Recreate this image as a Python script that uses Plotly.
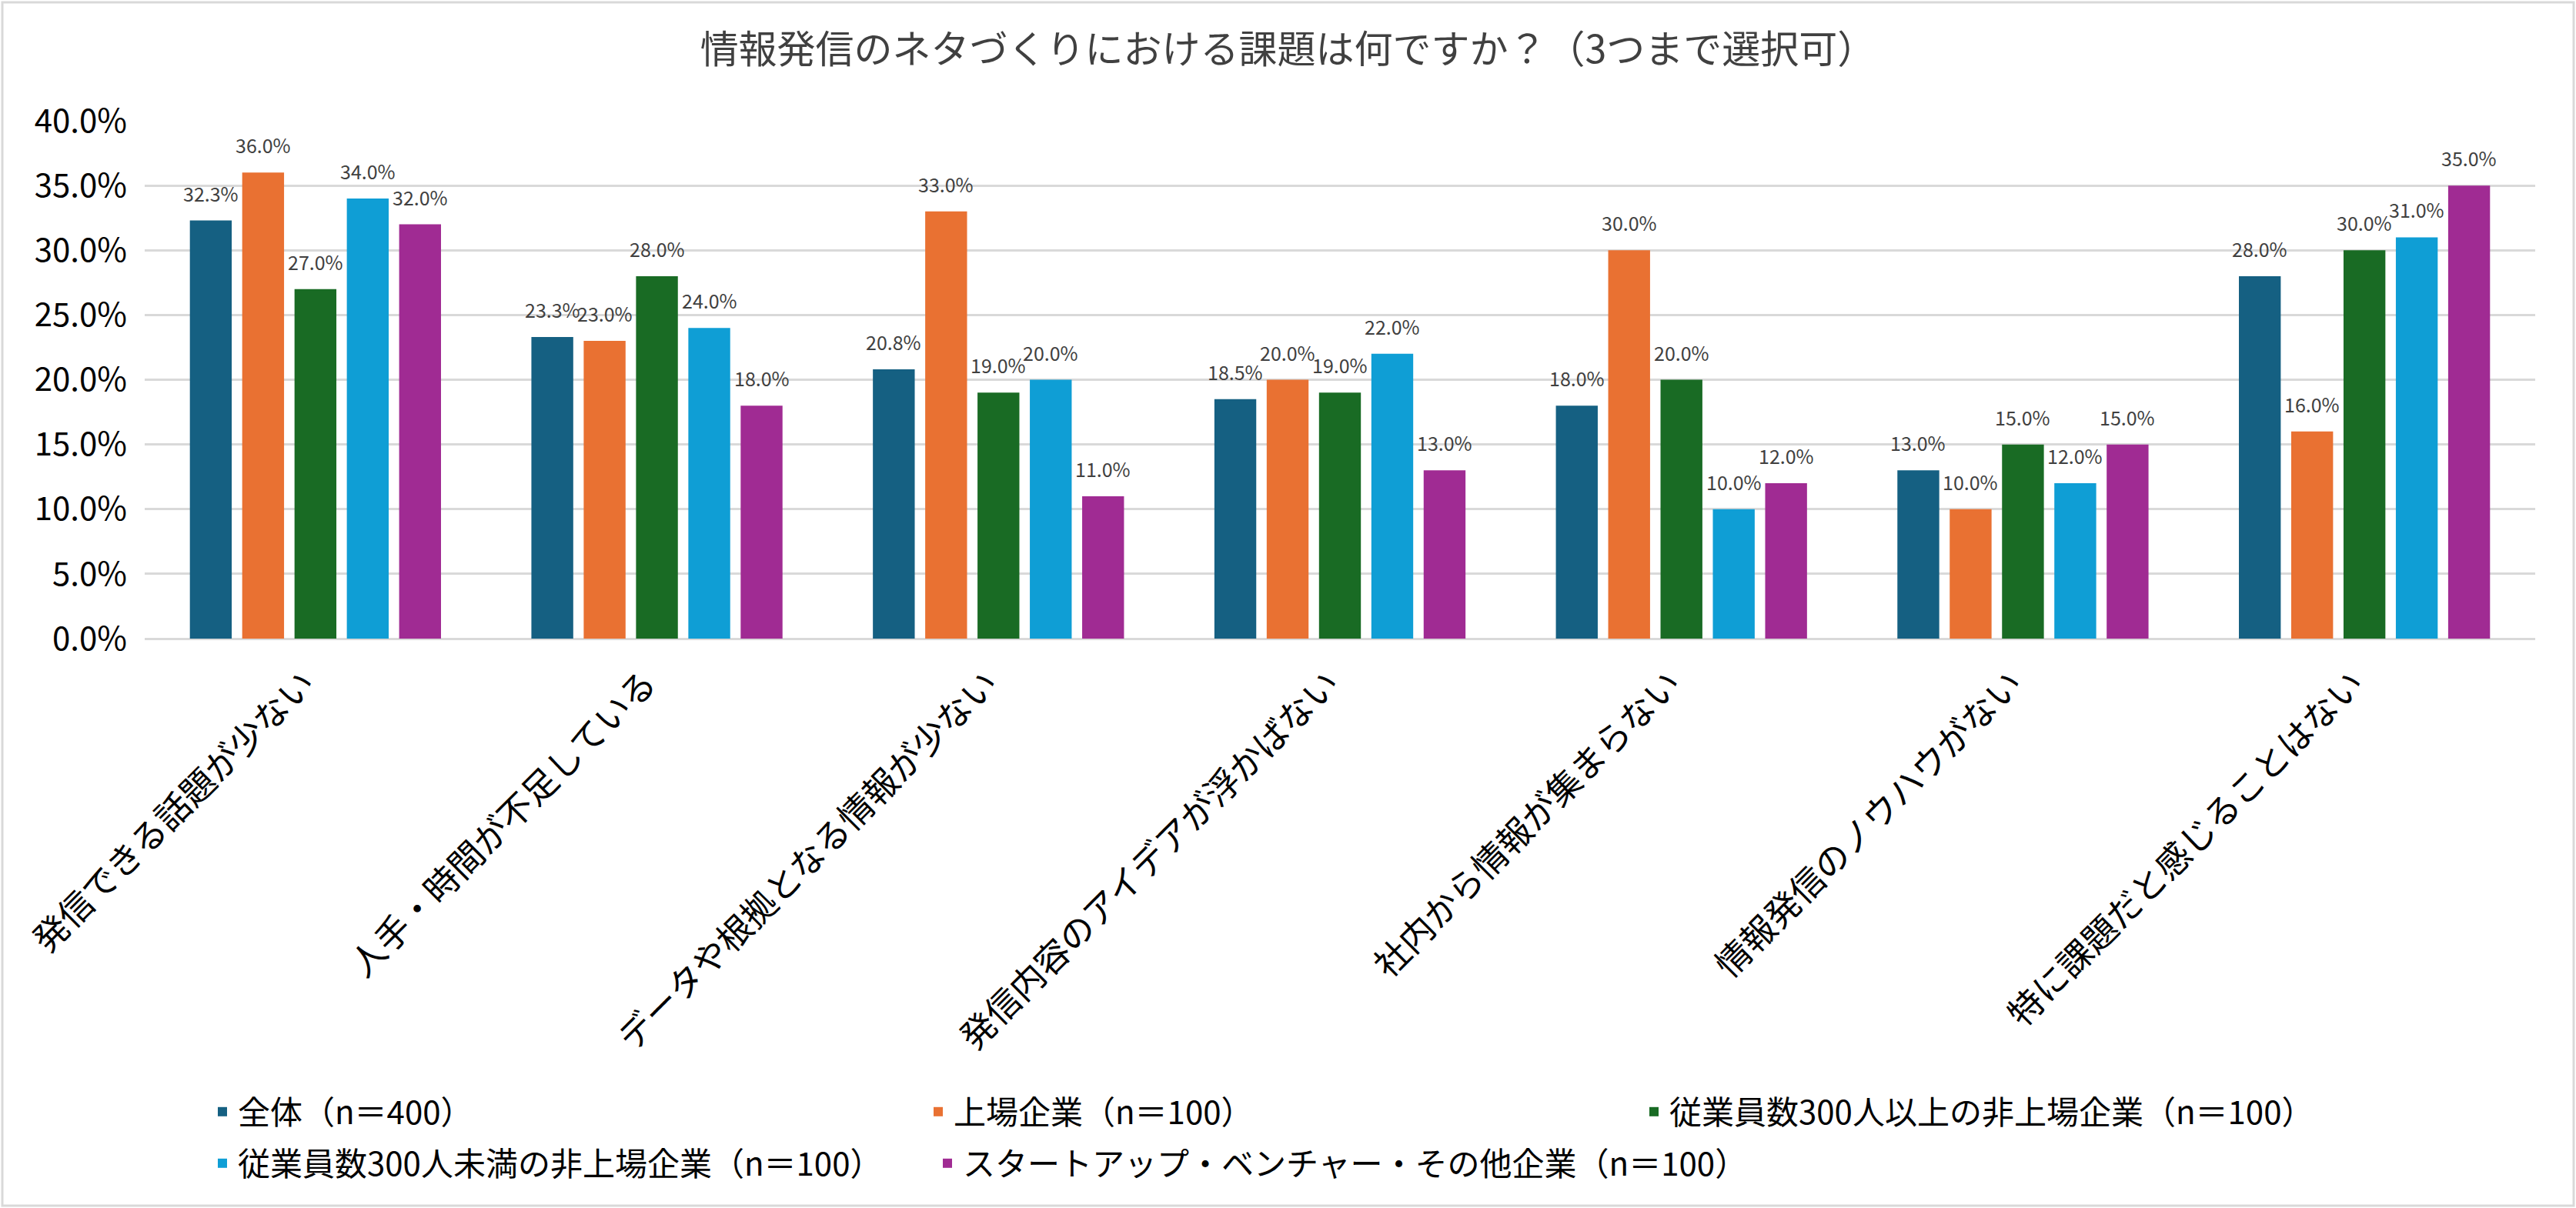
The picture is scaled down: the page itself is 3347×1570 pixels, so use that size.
import plotly.graph_objects as go

categories = [
    "発信できる話題が少ない",
    "人手・時間が不足している",
    "データや根拠となる情報が少ない",
    "発信内容のアイデアが浮かばない",
    "社内から情報が集まらない",
    "情報発信のノウハウがない",
    "特に課題だと感じることはない",
]
series_names = [
    "全体（n＝400）",
    "上場企業（n＝100）",
    "従業員数300人以上の非上場企業（n＝100）",
    "従業員数300人未満の非上場企業（n＝100）",
    "スタートアップ・ベンチャー・その他企業（n＝100）",
]
all_total = [32.3, 23.3, 20.8, 18.5, 18.0, 13.0, 28.0]
listed = [36.0, 23.0, 33.0, 20.0, 30.0, 10.0, 16.0]
large_unlisted = [27.0, 28.0, 19.0, 19.0, 20.0, 15.0, 30.0]
small_unlisted = [34.0, 24.0, 20.0, 22.0, 10.0, 12.0, 31.0]
startup = [32.0, 18.0, 11.0, 13.0, 12.0, 15.0, 35.0]
series_values = [all_total, listed, large_unlisted, small_unlisted, startup]
colors = ["#156082", "#E97132", "#196B24", "#0F9ED5", "#A02B93"]
legend_slots = ["legend", "legend", "legend", "legend2", "legend3"]
y_tickvals = [0, 5, 10, 15, 20, 25, 30, 35, 40]
y_ticktext = [f"{v:.1f}%" for v in y_tickvals]
title_text = "情報発信のネタづくりにおける課題は何ですか？（3つまで選択可）"

FONT = "Noto Sans CJK JP"
W, H = 3347, 1570
ML, MR, MT, MB = 188, 53, 157, 740
BARGAP = 0.234
pw = W - ML - MR
ph = H - MT - MB
n_series = len(series_values)
slot_px = pw / len(categories) * (1 - BARGAP) / n_series

fig = go.Figure()
for i, (name, vals, col, lg) in enumerate(zip(series_names, series_values, colors, legend_slots)):
    fig.add_trace(go.Bar(
        x=categories, y=vals, name=name, legend=lg,
        marker=dict(color=col, line=dict(width=0)),
        hoverinfo="x+y+name",
    ))
    for cat, v in zip(categories, vals):
        fig.add_annotation(
            x=cat, y=v, xref="x", yref="y",
            text=f"{v:.1f}%", showarrow=False,
            xanchor="center", yanchor="bottom",
            xshift=(i - (n_series - 1) / 2) * slot_px, yshift=16,
            font=dict(family=FONT, size=25, color="#404040"),
        )

fig.add_shape(
    type="rect", xref="paper", yref="paper",
    x0=-(ML - 3) / pw, x1=1 + (MR - 3) / pw,
    y0=-(MB - 3) / ph, y1=1 + (MT - 3) / ph,
    line=dict(color="#D9D9D9", width=3), fillcolor="rgba(0,0,0,0)", layer="below",
)

legend_common = dict(orientation="h", xanchor="left", yanchor="top",
                     font=dict(family=FONT, size=42, color="#000000"),
                     entrywidth=885, entrywidthmode="pixels",
                     traceorder="normal", tracegroupgap=0, itemwidth=30,
                     bgcolor="rgba(0,0,0,0)")
ROW1_TOP, ROW2_TOP = 1411, 1478
COL1_X, COL2_X = 269, 1211

fig.update_layout(
    width=W, height=H,
    margin=dict(l=ML, r=MR, t=MT, b=MB, autoexpand=False),
    paper_bgcolor="white", plot_bgcolor="white",
    barmode="group", bargap=BARGAP, bargroupgap=0.2,
    font=dict(family=FONT, color="#000000"),
    title=dict(text=title_text, x=0.5, xanchor="center", y=1 - 64 / H, yanchor="middle",
               font=dict(family=FONT, size=50, color="#404040")),
    showlegend=True,
    legend=dict(legend_common, x=(COL1_X - ML) / pw, y=-(ROW1_TOP - MT - ph) / ph),
    legend2=dict(legend_common, x=(COL1_X - ML) / pw, y=-(ROW2_TOP - MT - ph) / ph),
    legend3=dict(legend_common, x=(COL2_X - ML) / pw, y=-(ROW2_TOP - MT - ph) / ph,
                 entrywidth=1400),
    xaxis=dict(tickangle=-45, tickfont=dict(family=FONT, size=45, color="#000000"),
               showgrid=False, showline=False, ticks="", automargin=False,
               ticklabelstandoff=22, ticklabelshift=-14),
    yaxis=dict(range=[0, 40], tickvals=y_tickvals, ticktext=y_ticktext,
               tickfont=dict(family=FONT, size=42, color="#000000"),
               showgrid=True, gridcolor="#D9D9D9", gridwidth=2.5,
               zeroline=True, zerolinecolor="#D9D9D9", zerolinewidth=2.5,
               showline=False, ticks="", ticklabelstandoff=22, automargin=False),
)

fig.write_html("out.html", config={"displayModeBar": False},
               post_script="document.body.style.margin='0';")
